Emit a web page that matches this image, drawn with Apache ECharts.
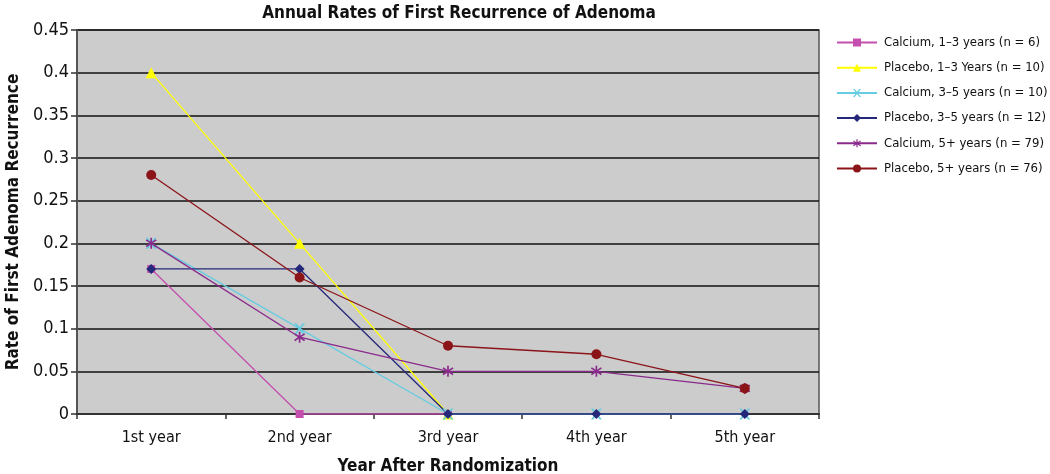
<!DOCTYPE html>
<html><head><meta charset="utf-8">
<script src="https://cdn.jsdelivr.net/npm/echarts@6/dist/echarts.min.js"></script>
<style>html,body{margin:0;padding:0;background:#fff}#c{width:1050px;height:474px}</style>
</head><body><div id="c"></div>
<script>
var categories = ['1st year', '2nd year', '3rd year', '4th year', '5th year'];
var yTicks = [0, 0.05, 0.1, 0.15, 0.2, 0.25, 0.3, 0.35, 0.4, 0.45];
var calcium13 = [0.17, 0, 0, null, null];
var placebo13 = [0.4, 0.2, 0, null, null];
var calcium35 = [0.2, 0.1, 0, 0, 0];
var placebo35 = [0.17, 0.17, 0, 0, 0];
var calcium5 = [0.2, 0.09, 0.05, 0.05, 0.03];
var placebo5 = [0.28, 0.16, 0.08, 0.07, 0.03];
var seriesNames = ['Calcium, 1\u20133 years (n = 6)', 'Placebo, 1\u20133 Years (n = 10)', 'Calcium, 3\u20135 years (n = 10)', 'Placebo, 3\u20135 years (n = 12)', 'Calcium, 5+ years (n = 79)', 'Placebo, 5+ years (n = 76)'];

var FONT = "'Liberation Sans Narrow', 'DejaVu Sans Condensed', 'Liberation Sans', sans-serif";
var xPath = 'path://M0,0L2,0L5,3.5L8,0L10,0L6,5L10,10L8,10L5,6.5L2,10L0,10L4,5Z';
var starPath = 'path://M4.3,0H5.7V3.6L8.8,1.4L9.6,2.5L6.4,4.8L9.6,7.5L8.8,8.6L5.7,6.4V10H4.3V6.4L1.2,8.6L0.4,7.5L3.6,4.8L0.4,2.5L1.2,1.4L4.3,3.6Z';
var colors = ['#c44fae', '#ffff00', '#66cce0', '#25287a', '#8a2a8c', '#8b1418'];
var symbols = ['rect', 'triangle', xPath, 'diamond', starPath, 'circle'];
var sizes = [8, 11, 11, 10, 11, 10];
var datasets = [calcium13, placebo13, calcium35, placebo35, calcium5, placebo5];

var series = datasets.map(function (d, i) {
  return {
    name: seriesNames[i], type: 'line', data: d, symbol: symbols[i], symbolSize: sizes[i],
    showAllSymbol: true, connectNulls: false,
    lineStyle: { color: colors[i], width: 1.3 },
    itemStyle: { color: colors[i], borderWidth: 0 },
    emphasis: { disabled: true }, animation: false
  };
});

var chart = echarts.init(document.getElementById('c'));
chart.setOption({
  animation: false,
  title: {
    text: 'Annual Rates of First Recurrence of Adenoma', left: 454, top: 0, textAlign: 'center',
    textStyle: { fontFamily: FONT, fontWeight: 'bold', fontSize: 17, color: '#111' }
  },
  legend: {
    orient: 'vertical', left: 831, top: 31, itemWidth: 40, itemHeight: 10, itemGap: 12.2,
    data: seriesNames,
    textStyle: { fontFamily: FONT, fontSize: 13, color: '#111', padding: [0, 0, 0, 2] }
  },
  grid: { left: 77, right: 231, top: 30, bottom: 60, outerBoundsMode: 'none', show: true, backgroundColor: '#cccccc', borderColor: '#555', borderWidth: 1.5 },
  xAxis: {
    type: 'category', data: categories, boundaryGap: true,
    name: 'Year After Randomization', nameLocation: 'middle', nameGap: 44,
    nameTextStyle: { fontFamily: FONT, fontWeight: 'bold', fontSize: 17, color: '#111' },
    axisLine: { lineStyle: { color: '#333', width: 2 } },
    axisTick: { show: true, length: 5, inside: false, lineStyle: { color: '#333', width: 1.5 } },
    axisLabel: { fontFamily: FONT, fontSize: 16, color: '#111', margin: 16 },
    splitLine: { show: false }
  },
  yAxis: {
    type: 'value', min: 0, max: 0.45, interval: 0.05,
    name: 'Rate of First Adenoma Recurrence', nameLocation: 'middle', nameGap: 54,
    nameTextStyle: { fontFamily: FONT, fontWeight: 'bold', fontSize: 17, color: '#111' },
    axisLine: { show: true, lineStyle: { color: '#555', width: 2 } },
    axisTick: { show: true, length: 6, lineStyle: { color: '#333', width: 1.5 } },
    axisLabel: { fontFamily: FONT, fontSize: 18, color: '#111', margin: 8,
      formatter: function (v) { var s = yTicks.filter(function (t) { return Math.abs(t - v) < 1e-9; }); return s.length ? String(+s[0].toFixed(2)) : ''; } },
    splitLine: { show: true, lineStyle: { color: '#111', width: 1.5 } }
  },
  series: series
});
</script></body></html>
